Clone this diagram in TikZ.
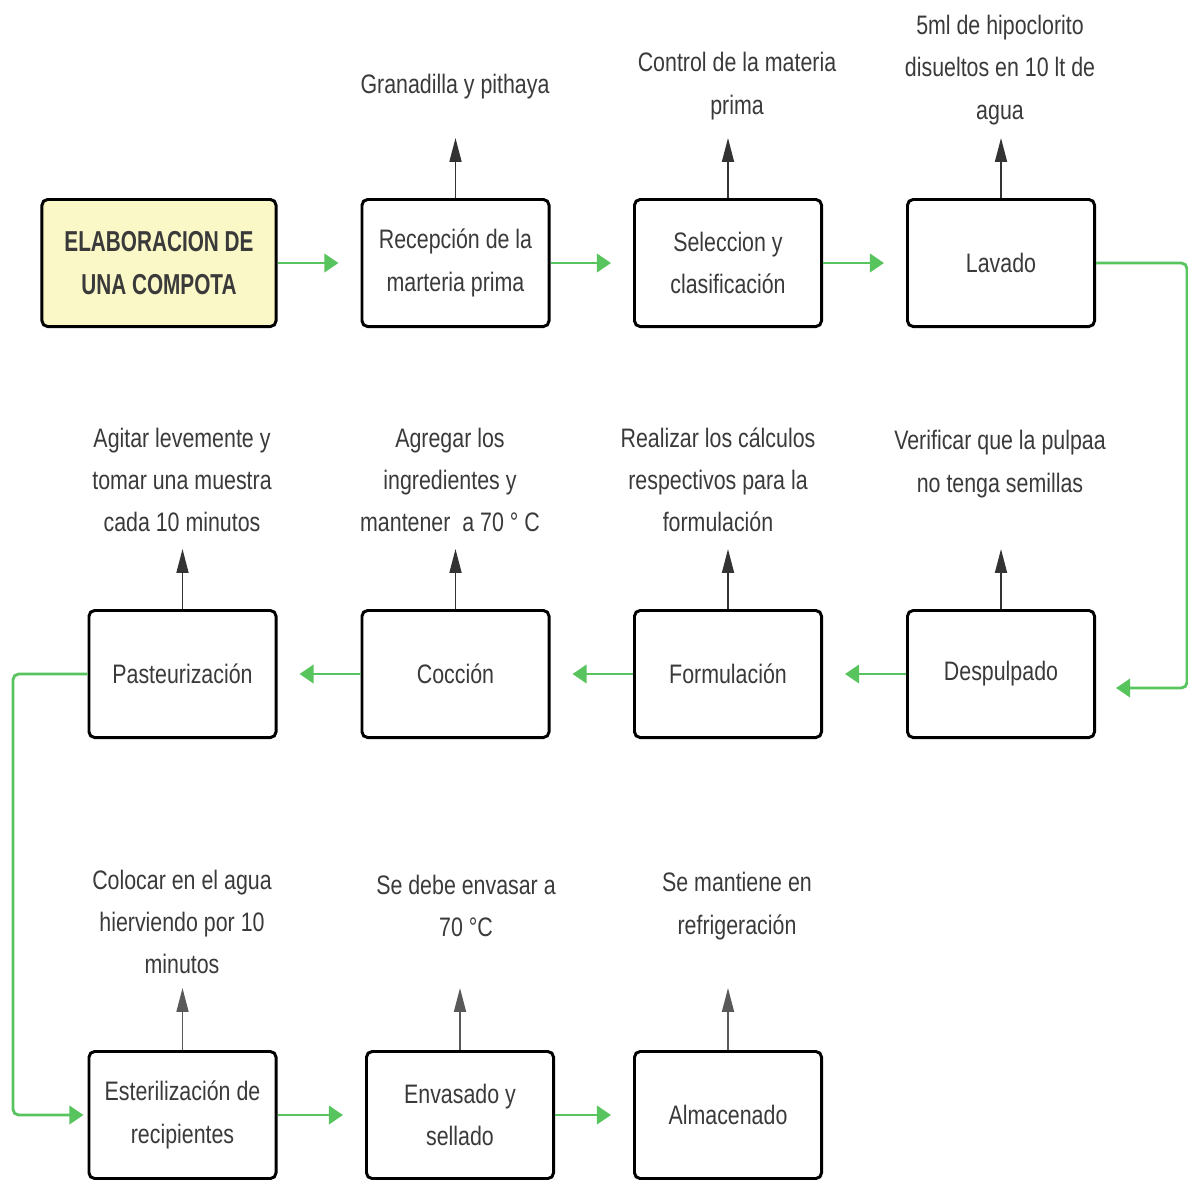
\documentclass[tikz,border=0pt]{standalone}
\usepackage{fontspec}
\setmainfont{Liberation Sans}[FakeStretch=0.8]
\newfontfamily\titlefont{Liberation Sans}[FakeStretch=0.72]
\usetikzlibrary{arrows.meta,calc}

\definecolor{flowgreen}{RGB}{88,196,94}
\definecolor{titlefill}{RGB}{250,248,198}
\definecolor{textgray}{RGB}{58,58,58}

\begin{document}
\begin{tikzpicture}[
        x=0.025cm, y=-0.025cm,
        step box/.style={
        rectangle, draw=black, line width=2.1pt,
        rounded corners=4pt, fill=white,
        minimum width=4.675cm, minimum height=3.175cm,
        align=center, text=textgray,
        font=\fontsize{19}{30}\selectfont},
        note/.style={
        align=center, text=textgray,
        font=\fontsize{19}{30}\selectfont},
        flow/.style={
        draw=flowgreen, line width=2pt,
        -{Triangle[length=10pt,width=13pt]},
        shorten >=0.55cm},
        up/.style={
        draw=black!80, line width=1.3pt,
        -{Triangle[length=17pt,width=8.5pt]}},
        ]

        \useasboundingbox (0,0) rectangle (1188,1179);

        % first row
        \node (start) [step box, fill=titlefill, minimum width=5.85cm,
            font=\titlefont\fontsize{20.5}{30}\selectfont\bfseries] at (159,263)
            {ELABORACION DE\\UNA COMPOTA};
        \node (recep) [step box] at (455.5,263) {Recepción de la\\marteria prima};
        \node (selec) [step box] at (728,263) {Seleccion y\\clasificación};
        \node (lavado) [step box] at (1001,263) {Lavado};

        % second row
        \node (despul) [step box] at (1001,674) {Despulpado};
        \node (formul) [step box] at (728,674) {Formulación};
        \node (coccion) [step box] at (455.5,674) {Cocción};
        \node (pasteur) [step box] at (182.5,674) {Pasteurización};

        % third row
        \node (esteril) [step box] at (182.5,1115) {Esterilización de\\recipientes};
        \node (envas) [step box] at (460,1115) {Envasado y\\sellado};
        \node (almac) [step box] at (728,1115) {Almacenado};

        % notes
        \node (n1) [note] at (455,87) {Granadilla y pithaya};
        \node (n2) [note] at (737,86) {Control de la materia\\prima};
        \node (n3) [note] at (1000,70) {5ml de hipoclorito\\disueltos en 10 lt de\\agua};
        \node (n4) [note] at (182,480) {Agitar levemente y\\tomar una muestra\\cada 10 minutos};
        \node (n5) [note] at (450,480) {Agregar los\\ingredientes y\\mantener \ a 70 ° C};
        \node (n6) [note] at (718,480) {Realizar los cálculos\\respectivos para la\\formulación};
        \node (n7) [note] at (1000,464) {Verificar que la pulpaa\\no tenga semillas};
        \node (n8) [note] at (182,922) {Colocar en el agua\\hierviendo por 10\\minutos};
        \node (n9) [note] at (466,906) {Se debe envasar a\\70 °C};
        \node (n10) [note] at (737,906) {Se mantiene en\\refrigeración};

        % arrows to the notes
        \foreach \b in {recep,selec,lavado,pasteur,coccion,formul,despul}{
            \path (\b.north) ++(0,-60) coordinate (\b-tip);
            \draw[up] (\b.north) -- (\b-tip);
        }
        \foreach \b in {esteril,envas,almac}{
            \path (\b.north) ++(0,-62) coordinate (\b-tip);
            \draw[up, draw=black!65] (\b.north) -- (\b-tip);
        }

        % process flow
        \draw[flow] (start) -- (recep);
        \draw[flow] (recep) -- (selec);
        \draw[flow] (selec) -- (lavado);
        \coordinate (turn1) at (1187,688);
        \draw[flow, rounded corners=4pt, shorten >=0.5cm]
            (lavado.east) -| (turn1) -- (despul.east |- turn1);
        \draw[flow] (despul) -- (formul);
        \draw[flow] (formul) -- (coccion);
        \draw[flow] (coccion) -- (pasteur);
        \coordinate (turn2) at (13,1115);
        \draw[flow, rounded corners=4pt, shorten >=0.1cm]
            (pasteur.west) -| (turn2) -- (esteril.west);
        \draw[flow] (esteril) -- (envas);
        \draw[flow] (envas) -- (almac);
\end{tikzpicture}
\end{document}
